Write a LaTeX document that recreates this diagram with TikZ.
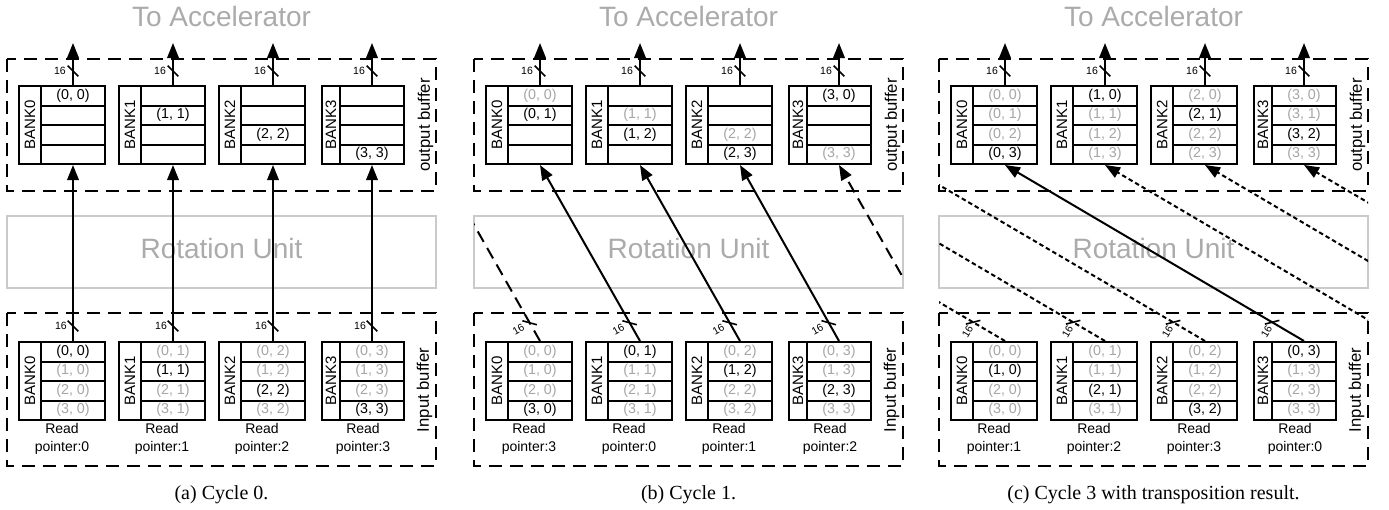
\documentclass[tikz,border=0pt]{standalone}
\usepackage{fontspec}
\usepackage{graphicx}
\setmainfont{Liberation Sans}
\newfontfamily\capfont{Liberation Serif}
\usetikzlibrary{calc,arrows.meta}
\definecolor{txtgray}{HTML}{ABABAB}
\definecolor{boxgray}{HTML}{CACACA}
\definecolor{cellgray}{HTML}{A6A6A6}
\newcommand\gy[1]{\textcolor{cellgray}{#1}}
\tikzset{
  cell/.style={draw, line width=2pt, minimum width=64pt, minimum height=19.5pt, inner sep=0pt, font=\fontsize{14.3}{16}\selectfont},
  labcol/.style={draw, line width=2pt, minimum height=78pt, inner sep=0pt, font=\fontsize{15}{17}\selectfont},
  bufbox/.style={draw, line width=2pt, dash pattern=on 13pt off 8pt},
  rotbox/.style={draw=boxgray, line width=2pt},
  bigtxt/.style={text=txtgray, font=\fontsize{28}{32}\selectfont, anchor=base, inner sep=0pt},
  conn/.style={line width=2pt, -{Triangle[length=15pt,width=11.5pt]}},
  plainconn/.style={line width=2pt},
  longdash/.style={dash pattern=on 12pt off 7pt},
  shortdash/.style={dash pattern=on 4.5pt off 3pt},
  slash/.style={line width=1.6pt},
  buslab/.style={font=\fontsize{10.5}{12}\selectfont, inner sep=0pt},
  bufname/.style={rotate=90, font=\fontsize{16.7}{19}\selectfont, inner sep=0pt},
  ptr/.style={align=center, font=\fontsize{14}{18}\selectfont, inner sep=0pt},
  capt/.style={font=\capfont\fontsize{20}{24}\selectfont, anchor=base, inner sep=0pt},
}
% \bank{name}{xc}{ytop}{labw}{label}{c0}{c1}{c2}{c3}
\newcommand\bank[9]{%
  \node[labcol, minimum width=#4pt] (#1-l) at ({#2-32-#4/2}, {#3+39}) {\rotatebox{90}{#5}};
  \node[cell] (#1-r0) at (#2, {#3+9.75}) {#6};
  \node[cell] (#1-r1) at (#2, {#3+29.25}) {#7};
  \node[cell] (#1-r2) at (#2, {#3+48.75}) {#8};
  \node[cell] (#1-r3) at (#2, {#3+68.25}) {#9};
}
% \busmark{id}{from}{toward}{dist}{rot}{labeldist}
\newcommand\busmark[6]{%
  \coordinate (#1) at ($(#2)!#4pt!(#3)$);
  \draw[slash] ($(#1)!7.5pt!45:(#3)$) -- ($(#1)!7.5pt!-135:(#3)$);
  \node[buslab, rotate=#5] (#1-t) at ($(#1)!#6pt!90:(#3)$) {16};
}
\begin{document}
\begin{tikzpicture}[x=1pt, y=-1pt]
\useasboundingbox (0,0) rectangle (1389,509);
\fill[white] (0,0) rectangle (1389,509);

% ---------- frames and titles ----------
\foreach \px/\nm/\ct in {0/a/{(a) Cycle 0.}, 467/b/{(b) Cycle 1.}, 932/c/{(c) Cycle 3 with transposition result.}} {
  \draw[bufbox] (7+\px,59) rectangle (436+\px,191);
  \draw[rotbox] (7+\px,216) rectangle (436+\px,288);
  \draw[bufbox] (7+\px,313) rectangle (436+\px,466);
  \node[bigtxt] (acc-\nm) at (221.5+\px, 26) {To Accelerator};
  \node[bigtxt] (rot-\nm) at (221.5+\px, 258) {Rotation Unit};
  \node[bufname] (ob-\nm) at (425.5+\px, 125) {output buffer};
  \node[bufname] (ib-\nm) at (424.5+\px, 390) {Input buffer};
  \node[capt] (cap-\nm) at (221.5+\px, 499) {\ct};
}

% ---------- panel (a) ----------
\bank{a-o0}{73}{86}{22}{BANK0}{(0, 0)}{}{}{}
\bank{a-o1}{173}{86}{22}{BANK1}{}{(1, 1)}{}{}
\bank{a-o2}{273}{86}{22}{BANK2}{}{}{(2, 2)}{}
\bank{a-o3}{372}{86}{18}{BANK3}{}{}{}{(3, 3)}
\bank{a-i0}{73}{342}{22}{BANK0}{(0, 0)}{\gy{(1, 0)}}{\gy{(2, 0)}}{\gy{(3, 0)}}
\bank{a-i1}{173}{342}{22}{BANK1}{\gy{(0, 1)}}{(1, 1)}{\gy{(2, 1)}}{\gy{(3, 1)}}
\bank{a-i2}{273}{342}{22}{BANK2}{\gy{(0, 2)}}{\gy{(1, 2)}}{(2, 2)}{\gy{(3, 2)}}
\bank{a-i3}{372}{342}{18}{BANK3}{\gy{(0, 3)}}{\gy{(1, 3)}}{\gy{(2, 3)}}{(3, 3)}

% ---------- panel (b) ----------
\bank{b-o0}{540}{86}{22}{BANK0}{\gy{(0, 0)}}{(0, 1)}{}{}
\bank{b-o1}{640}{86}{22}{BANK1}{}{\gy{(1, 1)}}{(1, 2)}{}
\bank{b-o2}{740}{86}{22}{BANK2}{}{}{\gy{(2, 2)}}{(2, 3)}
\bank{b-o3}{839}{86}{18}{BANK3}{(3, 0)}{}{}{\gy{(3, 3)}}
\bank{b-i0}{540}{342}{22}{BANK0}{\gy{(0, 0)}}{\gy{(1, 0)}}{\gy{(2, 0)}}{(3, 0)}
\bank{b-i1}{640}{342}{22}{BANK1}{(0, 1)}{\gy{(1, 1)}}{\gy{(2, 1)}}{\gy{(3, 1)}}
\bank{b-i2}{740}{342}{22}{BANK2}{\gy{(0, 2)}}{(1, 2)}{\gy{(2, 2)}}{\gy{(3, 2)}}
\bank{b-i3}{839}{342}{18}{BANK3}{\gy{(0, 3)}}{\gy{(1, 3)}}{(2, 3)}{\gy{(3, 3)}}

% ---------- panel (c) ----------
\bank{c-o0}{1005}{86}{22}{BANK0}{\gy{(0, 0)}}{\gy{(0, 1)}}{\gy{(0, 2)}}{(0, 3)}
\bank{c-o1}{1105}{86}{22}{BANK1}{(1, 0)}{\gy{(1, 1)}}{\gy{(1, 2)}}{\gy{(1, 3)}}
\bank{c-o2}{1205}{86}{22}{BANK2}{\gy{(2, 0)}}{(2, 1)}{\gy{(2, 2)}}{\gy{(2, 3)}}
\bank{c-o3}{1304}{86}{18}{BANK3}{\gy{(3, 0)}}{\gy{(3, 1)}}{(3, 2)}{\gy{(3, 3)}}
\bank{c-i0}{1005}{342}{22}{BANK0}{\gy{(0, 0)}}{(1, 0)}{\gy{(2, 0)}}{\gy{(3, 0)}}
\bank{c-i1}{1105}{342}{22}{BANK1}{\gy{(0, 1)}}{\gy{(1, 1)}}{(2, 1)}{\gy{(3, 1)}}
\bank{c-i2}{1205}{342}{22}{BANK2}{\gy{(0, 2)}}{\gy{(1, 2)}}{\gy{(2, 2)}}{(3, 2)}
\bank{c-i3}{1304}{342}{18}{BANK3}{(0, 3)}{\gy{(1, 3)}}{\gy{(2, 3)}}{\gy{(3, 3)}}

% ---------- read pointers ----------
\foreach \nm/\px/\pa/\pb/\pc/\pd in {a/0/0/1/2/3, b/467/3/0/1/2, c/932/1/2/3/0} {
  \node[ptr] (rp-\nm0) at (62+\px, 438.5) {Read\\pointer:\pa};
  \node[ptr] (rp-\nm1) at (162+\px, 438.5) {Read\\pointer:\pb};
  \node[ptr] (rp-\nm2) at (262+\px, 438.5) {Read\\pointer:\pc};
  \node[ptr] (rp-\nm3) at (363+\px, 438.5) {Read\\pointer:\pd};
}

% ---------- outgoing arrows to accelerator ----------
\foreach \nm/\px in {a/0, b/467, c/932} {
  \foreach \k/\x in {0/73, 1/173, 2/273, 3/372} {
    \coordinate (\nm-t\k) at (\x+\px, 43);
    \draw[conn] (\nm-o\k-r0.north) -- (\nm-t\k);
    \busmark{\nm-bt\k}{\nm-o\k-r0.north}{\nm-t\k}{14}{0}{13}
  }
}

% ---------- panel (a) connections ----------
\foreach \k in {0,1,2,3} {
  \draw[conn] (a-i\k-r0.north) -- (a-o\k-r3.south);
  \busmark{a-bi\k}{a-i\k-r0.north}{a-o\k-r3.south}{15}{0}{12}
}

% ---------- panel (b) connections ----------
\foreach \k/\j in {1/0, 2/1, 3/2} {
  \draw[conn] (b-i\k-r0.north) -- (b-o\j-r3.south);
  \busmark{b-bi\k}{b-i\k-r0.north}{b-o\j-r3.south}{21}{29.25}{13}
}
\coordinate (b-v0) at ($(b-o3-r3.south)+(-399,0)$);
\coordinate (b-w3) at ($(b-i0-r0.north)+(399,0)$);
\begin{scope}
  \clip (474,0) rectangle (903,509);
  \draw[plainconn, longdash] (b-i0-r0.north) -- (b-v0);
  \draw[conn, longdash] (b-w3) -- (b-o3-r3.south);
\end{scope}
\busmark{b-bi0}{b-i0-r0.north}{b-v0}{21}{29.25}{13}

% ---------- panel (c) connections ----------
\draw[conn] (c-i3-r0.north) -- (c-o0-r3.south);
\busmark{c-bi3}{c-i3-r0.north}{c-o0-r3.south}{37}{59.2}{11}
\foreach \k/\j in {0/1, 1/2, 2/3} {
  \coordinate (c-v\k) at ($(c-o\j-r3.south)+(-399,0)$);
  \coordinate (c-w\j) at ($(c-i\k-r0.north)+(399,0)$);
  \begin{scope}
    \clip (939,0) rectangle (1368,509);
    \draw[plainconn, shortdash] (c-i\k-r0.north) -- (c-v\k);
    \draw[conn, shortdash] (c-w\j) -- (c-o\j-r3.south);
  \end{scope}
  \busmark{c-bi\k}{c-i\k-r0.north}{c-v\k}{37}{59.2}{11}
}
\end{tikzpicture}
\end{document}
